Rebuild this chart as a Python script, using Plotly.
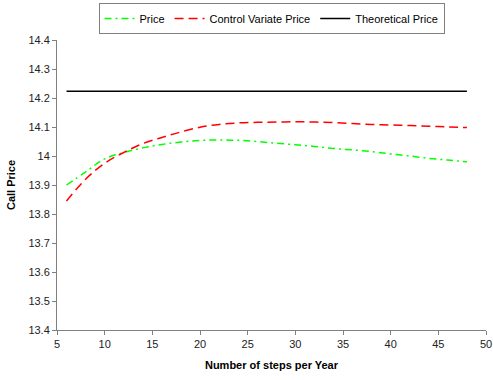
import plotly.graph_objects as go

steps = [6, 8, 10, 12, 14, 16, 18, 20, 22, 24, 26, 28, 30, 32, 34, 36, 38, 40, 42, 44, 46, 48]
price = [13.90, 13.945, 13.99, 14.012, 14.028, 14.04, 14.048, 14.054, 14.055, 14.054, 14.05,
         14.044, 14.039, 14.033, 14.026, 14.021, 14.015, 14.007, 14.0, 13.992, 13.986, 13.98]
cv_price = [13.845, 13.92, 13.975, 14.012, 14.043, 14.064, 14.083, 14.099, 14.109, 14.114, 14.116,
            14.117, 14.118, 14.117, 14.115, 14.112, 14.109, 14.107, 14.105, 14.103, 14.1, 14.098]
theoretical = [14.223] * len(steps)

fig = go.Figure()
fig.add_trace(go.Scatter(x=steps, y=price, mode="lines", name="Price",
                         line=dict(color="#00FF00", width=1.5, dash="7px,4px,2px,4px"),
                         line_shape="spline"))
fig.add_trace(go.Scatter(x=steps, y=cv_price, mode="lines", name="Control Variate Price",
                         line=dict(color="#FF0000", width=1.5, dash="9px,5px"),
                         line_shape="spline"))
fig.add_trace(go.Scatter(x=steps, y=theoretical, mode="lines", name="Theoretical Price",
                         line=dict(color="#000000", width=1.5)))

axis_common = dict(showgrid=False, zeroline=False, showline=True, linecolor="#808080",
                   linewidth=1, ticks="outside", ticklen=4, tickcolor="#808080",
                   tickfont=dict(family="Arial", size=11, color="#222222"))

fig.update_layout(
    width=493, height=380,
    margin=dict(l=57, r=7, t=40, b=50, autoexpand=False),
    paper_bgcolor="white", plot_bgcolor="white",
    font=dict(family="Arial", size=11, color="#000000"),
    legend=dict(orientation="h", x=0.5, xanchor="center", y=1.128, yanchor="top",
                bordercolor="#808080", borderwidth=1, font=dict(family="Arial", size=11),
                itemwidth=30, tracegroupgap=0),
    xaxis=dict(range=[5, 50], dtick=5, tick0=5,
               title=dict(text="<b>Number of steps per Year</b>", font=dict(family="Arial", size=11), standoff=12),
               **axis_common),
    yaxis=dict(range=[13.4, 14.4], dtick=0.1, tick0=13.4,
               title=dict(text="<b>Call Price</b>", font=dict(family="Arial", size=11), standoff=10),
               **axis_common),
)

fig.write_html("out.html")
